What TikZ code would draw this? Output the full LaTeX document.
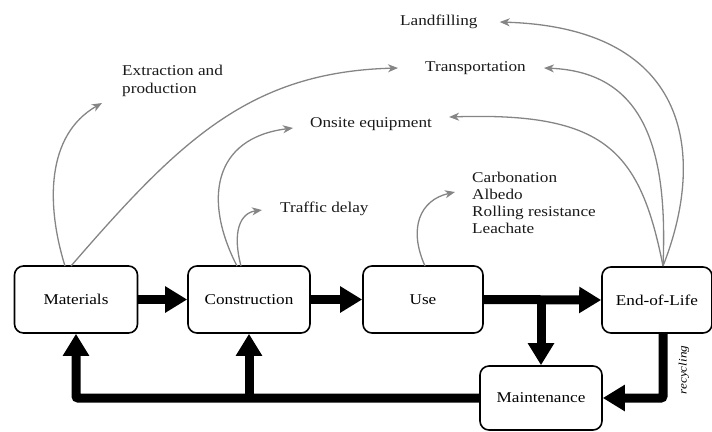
\documentclass[tikz,border=0pt]{standalone}
\usepackage{fontspec}
\setmainfont{Liberation Serif}[FakeStretch=1.15]
\usetikzlibrary{arrows.meta,calc}
\begin{document}
\begin{tikzpicture}[x=1bp,y=-1bp,
  box/.style={draw=black,line width=1.6bp,rounded corners=9bp,fill=white,inner sep=0pt,font=\fontsize{15}{17}\selectfont},
  tarrow/.style={draw=black,line width=9bp,-{Triangle[length=22bp,width=25bp]}},
  garrow/.style={draw=black!48,line width=1.3bp,-{Stealth[length=10bp,width=8bp,inset=3bp]}},
  lbl/.style={font=\fontsize{15}{17.5}\selectfont,anchor=west,inner sep=0pt,text=black!90,align=left}]
\useasboundingbox (0,0) rectangle (712,431);
% boxes
\node[box,minimum width=123bp,minimum height=67bp] (mat) at (76,299.5) {Materials};
\node[box,minimum width=122bp,minimum height=67bp] (con) at (249,299.5) {Construction};
\node[box,minimum width=120bp,minimum height=67bp] (use) at (423,299.5) {Use};
\node[box,minimum width=110bp,minimum height=66bp] (eol) at (657,300) {End-of-Life};
\node[box,minimum width=122bp,minimum height=64bp] (mnt) at (541,398) {Maintenance};
% thick arrows
\draw[tarrow] (mat.east) -- (con.west);
\draw[tarrow] (con.east) -- (use.west);
\draw[tarrow] (use.east) -- (eol.west);
\draw[tarrow] (mnt.north |- use.east) -- (mnt.north);
\draw[tarrow,rounded corners=2bp] ([xshift=6bp]eol.south) |- (mnt.east);
\draw[tarrow,rounded corners=2bp] (mnt.west) -| (mat.south);
\draw[tarrow] (con.south |- mnt.west) -- (con.south);
\node[font=\fontsize{11.5}{13}\selectfont\itshape,rotate=90,inner sep=0pt] (rec) at (684,370) {recycling};
% labels
\node[lbl] (ext) at (122,81) {Extraction and\\production};
\node[lbl] (land) at (400,22) {Landfilling};
\node[lbl] (trans) at (425,68) {Transportation};
\node[lbl] (onsite) at (310,124) {Onsite equipment};
\node[lbl] (traffic) at (280,209) {Traffic delay};
\node[lbl,font=\fontsize{15}{17.3}\selectfont] (carb) at (472,203) {Carbonation\\Albedo\\Rolling resistance\\Leachate};
% gray arrows
\coordinate (m1) at (65,266);
\coordinate (m2) at (71,266);
\coordinate (c1) at (237,266);
\coordinate (c2) at (241,266);
\coordinate (u1) at (425,266);
\coordinate (e1) at (663,266);
\draw[garrow] (m1) .. controls (46,205) and (46,135) .. ($(ext.west)+(-20,22)$);
\draw[garrow] (m2) .. controls (180,140) and (250,72) .. ($(trans.west)+(-27,0)$);
\draw[garrow] (c1) .. controls (203,200) and (213,138) .. ($(onsite.west)+(-17,4)$);
\draw[garrow] (c2) .. controls (232,232) and (240,213) .. ($(traffic.west)+(-18,1)$);
\draw[garrow] (u1) .. controls (408,228) and (420,200) .. ($(carb.west)+(-17,-11)$);
\draw[garrow] (e1) .. controls (705,160) and (695,28) .. ($(land.east)+(22,0)$);
\draw[garrow] (e1) .. controls (668,150) and (645,72) .. ($(trans.east)+(18,0)$);
\draw[garrow] (e1) .. controls (640,150) and (605,112) .. ($(onsite.east)+(17,-7)$);
\end{tikzpicture}
\end{document}
